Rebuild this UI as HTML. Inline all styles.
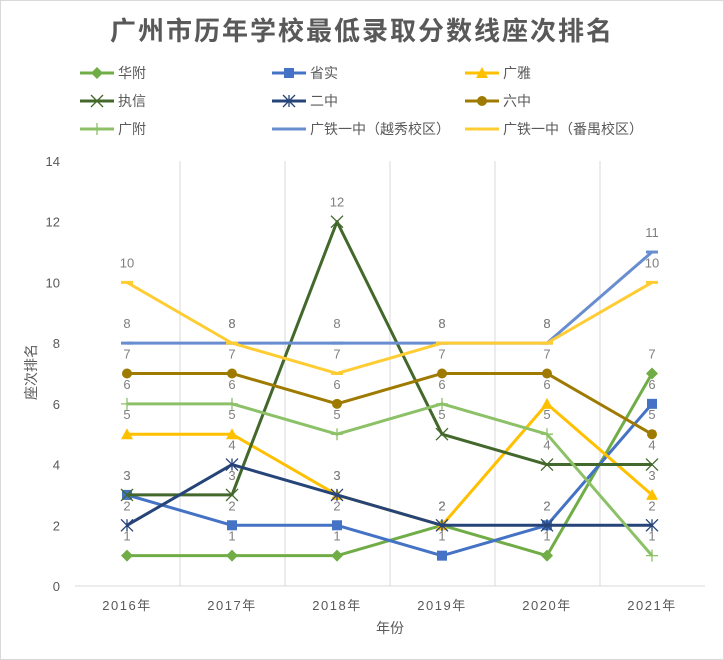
<!DOCTYPE html>
<html><head><meta charset="utf-8"><style>
body{margin:0;background:#fff}
svg{display:block;font-family:"Liberation Sans","Noto Sans CJK SC",sans-serif}
</style></head><body>
<svg id="c" width="724" height="660" xmlns="http://www.w3.org/2000/svg">
<rect x="0.5" y="0.5" width="723" height="659" fill="#fff" stroke="#d9d9d9"/>
<text x="362" y="40" text-anchor="middle" font-size="26" font-weight="bold" fill="#595959" letter-spacing="2">广州市历年学校最低录取分数线座次排名</text>
<g id="grid" stroke="#d9d9d9" stroke-width="1"></g>
<g id="ax" font-size="13" fill="#595959"></g>
<g id="ser"></g>
<g id="lab" font-size="13" fill="#7f7f7f" text-anchor="middle"></g>
<g id="leg" font-size="14" fill="#595959"></g>
<text x="390" y="633" text-anchor="middle" font-size="14" fill="#595959">年份</text>
<text transform="translate(36,372) rotate(-90)" text-anchor="middle" font-size="14" fill="#595959">座次排名</text>
</svg>
<script>
const NS="http://www.w3.org/2000/svg";
function el(p,t,a,txt){const e=document.createElementNS(NS,t);for(const k in a)e.setAttribute(k,a[k]);if(txt!=null)e.textContent=txt;document.getElementById(p).appendChild(e);return e;}
const X=i=>127+105*i, Y=v=>586-30.36*v;
for(let i=0;i<=6;i++){const x=75+105*i;if(i>0&&i<6)el('grid','line',{x1:x,y1:161,x2:x,y2:586});}
el('grid','line',{x1:75,y1:586,x2:705,y2:586});
for(let v=0;v<=14;v+=2)el('ax','text',{x:60,y:Y(v)+5,'text-anchor':'end'},v);
for(let i=0;i<6;i++)el('ax','text',{x:X(i),y:610,'text-anchor':'middle','letter-spacing':'1.5'},(2016+i)+'年');
const S=[
["华附","#70AD47",[1,1,1,2,1,7],"dia"],
["省实","#4472C4",[3,2,2,1,2,6],"sq"],
["广雅","#FFC000",[5,5,3,2,6,3],"tri"],
["执信","#43682B",[3,3,12,5,4,4],"x"],
["二中","#264478",[2,4,3,2,2,2],"star"],
["六中","#9E7A00",[7,7,6,7,7,5],"circ"],
["广附","#8CC168",[6,6,5,6,5,1],"plus"],
["广铁一中（越秀校区）","#698ED0",[8,8,8,8,8,11],"dash"],
["广铁一中（番禺校区）","#FFCD33",[10,8,7,8,8,10],"dash"]];
function mk(g,type,x,y,c){
 if(type=="dia")el(g,'path',{d:`M${x} ${y-6}L${x+6} ${y}L${x} ${y+6}L${x-6} ${y}Z`,fill:c});
 else if(type=="sq")el(g,'rect',{x:x-5,y:y-5,width:10,height:10,fill:c});
 else if(type=="tri")el(g,'path',{d:`M${x} ${y-6}L${x+6} ${y+5}L${x-6} ${y+5}Z`,fill:c});
 else if(type=="x")el(g,'path',{d:`M${x-6} ${y-6}L${x+6} ${y+6}M${x+6} ${y-6}L${x-6} ${y+6}`,stroke:c,'stroke-width':1.3});
 else if(type=="star")el(g,'path',{d:`M${x-6} ${y-6}L${x+6} ${y+6}M${x+6} ${y-6}L${x-6} ${y+6}M${x} ${y-6}L${x} ${y+6}`,stroke:c,'stroke-width':1.3});
 else if(type=="circ")el(g,'circle',{cx:x,cy:y,r:5,fill:c});
 else if(type=="plus")el(g,'path',{d:`M${x-6} ${y}L${x+6} ${y}M${x} ${y-6}L${x} ${y+6}`,stroke:c,'stroke-width':1.3});
 else if(type=="dash")el(g,'path',{d:`M${x-6} ${y}L${x+6} ${y}`,stroke:c,'stroke-width':3});
}
S.forEach((s,k)=>{
 el('ser','polyline',{points:s[2].map((v,i)=>X(i)+','+Y(v)).join(' '),fill:'none',stroke:s[1],'stroke-width':3,'stroke-linejoin':'round'});
 s[2].forEach((v,i)=>{mk('ser',s[3],X(i),Y(v),s[1]);el('lab','text',{x:X(i),y:Y(v)-15},v);});
 const col=k%3,row=Math.floor(k/3);
 const lx=[80,272,465][col],ly=73+row*28;
 el('leg','line',{x1:lx,y1:ly,x2:lx+34,y2:ly,stroke:s[1],'stroke-width':3});
 mk('leg',s[3],lx+17,ly,s[1]);
 el('leg','text',{x:lx+38,y:ly+5},s[0]);
});
</script>
</body></html>
